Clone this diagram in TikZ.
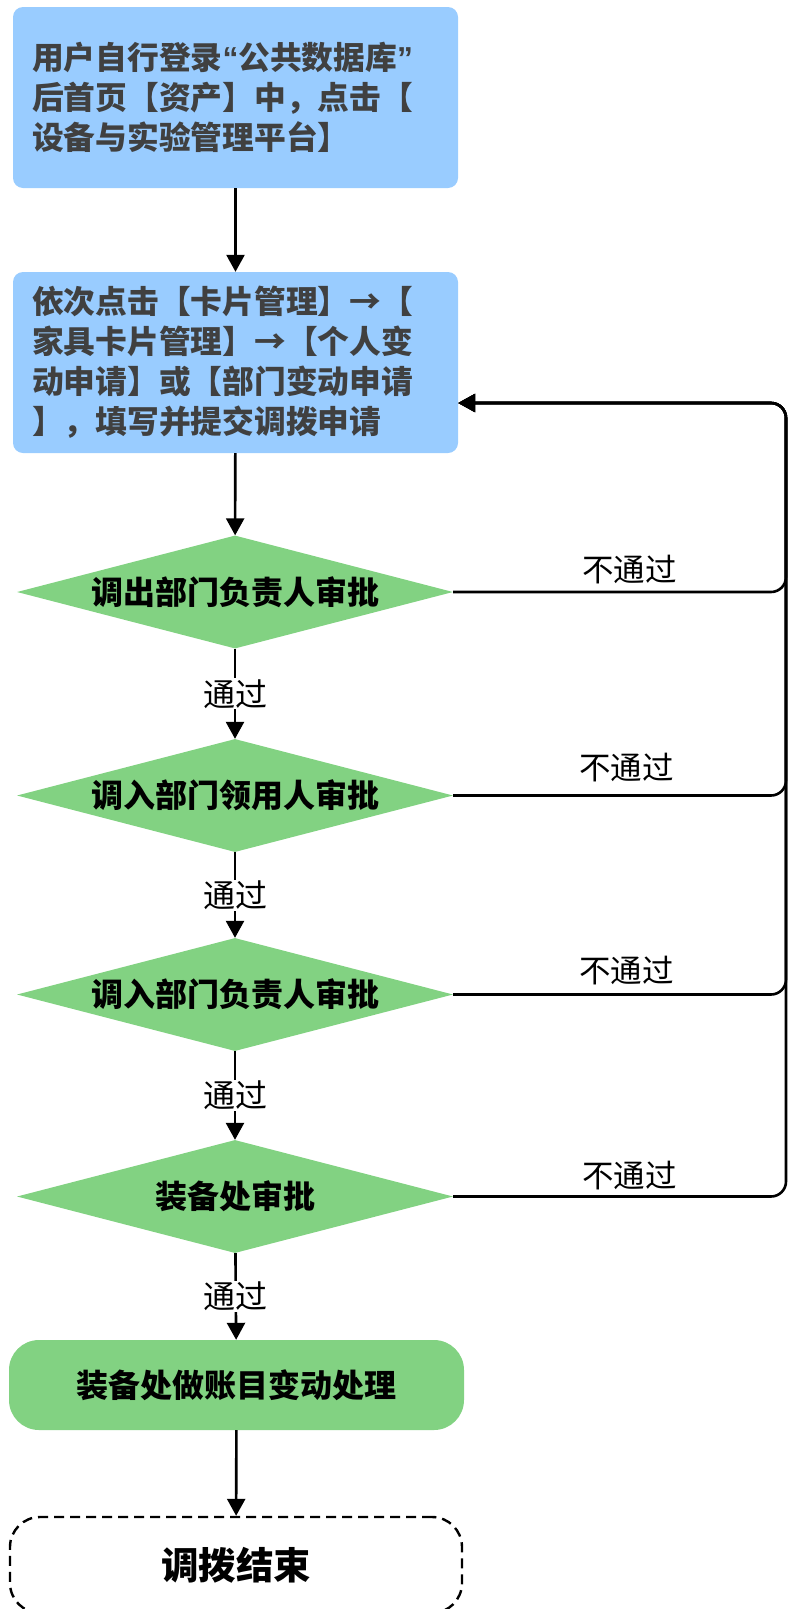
\documentclass[tikz,border=0pt]{standalone}
\usepackage{fontspec}
\setmainfont{Noto Sans CJK SC}
\newfontfamily\latinq{Liberation Sans}
\usetikzlibrary{arrows.meta,shapes.geometric}
\definecolor{boxblue}{HTML}{99CCFF}
\definecolor{boxgreen}{HTML}{82D282}
\definecolor{txtgray}{HTML}{404040}
\newcommand{\narrowq}[1]{{\latinq\bfseries\makebox[0.5em][c]{#1}}}
\begin{document}
\begin{tikzpicture}[x=1pt,y=-1pt,
  bluebox/.style={fill=boxblue, rounded corners=10pt, minimum width=445pt,
    text width=407pt, align=left, inner xsep=19pt, inner ysep=0pt,
    font=\fontsize{31.75}{40}\selectfont\bfseries, text=txtgray},
  decision/.style={diamond, fill=boxgreen, aspect=3.84, inner sep=0pt,
    minimum width=436pt, minimum height=113pt, text height=24pt, text depth=0pt,
    font=\fontsize{32}{38}\selectfont\bfseries, text=black},
  procbox/.style={fill=boxgreen, rounded corners=30pt, minimum width=455pt,
    minimum height=90pt, font=\fontsize{32}{38}\selectfont\bfseries, text=black},
  endbox/.style={draw=black, line width=2.4pt, dash pattern=on 10pt off 6pt,
    rounded corners=30pt, minimum width=452pt, minimum height=96pt,
    font=\fontsize{37.5}{44}\selectfont\bfseries, text=black},
  arr/.style={draw=black, line width=2.6pt, -{Triangle[length=17pt,width=18pt]}},
  fb/.style={arr, rounded corners=15pt},
  pass/.style={fill=white, inner sep=1pt, font=\fontsize{32}{38}\selectfont, text=black},
  fail/.style={inner sep=0pt, font=\fontsize{31.5}{38}\selectfont, text=black}
]
\clip (0,0) rectangle (792,1609);
\useasboundingbox (0,0) rectangle (792,1609);

\node[bluebox, minimum height=181pt] (b1) at (235.5,97.5)
  {用户自行登录\narrowq{“}公共数据库\narrowq{”}\\后首页【资产】中，点击【\\设备与实验管理平台】};
\node[bluebox, minimum height=181pt] (b2) at (235.5,362.5)
  {依次点击【卡片管理】→【\\家具卡片管理】→【个人变\\动申请】或【部门变动申请\\】，填写并提交调拨申请};

\node[decision] (d1) at (235,592) {调出部门负责人审批};
\node[decision] (d2) at (235,795.5) {调入部门领用人审批};
\node[decision] (d3) at (235,994.5) {调入部门负责人审批};
\node[decision] (d4) at (235,1196.5) {装备处审批};

\node[procbox] (g) at (236.5,1385) {装备处做账目变动处理};
\node[endbox] (e) at (236,1565) {调拨结束};

\coordinate (rail) at (786,403);

\draw[arr] (b1) -- (b2);
\draw[arr] (b2) -- (d1);
\draw[arr] (d1) -- node[pass] {通过} (d2);
\draw[arr] (d2) -- node[pass] {通过} (d3);
\draw[arr] (d3) -- node[pass] {通过} (d4);
\draw[arr] (d4) -- node[pass] {通过} (g);
\draw[arr] (g) -- (e);

\draw[fb] (d1.east) -- node[fail, pos=0.53, yshift=22pt] {不通过} (d1.east -| rail) |- ([yshift=-40.5pt]b2.east);
\draw[fb] (d2.east) -- node[fail, pos=0.52, yshift=28pt] {不通过} (d2.east -| rail) |- ([yshift=-40.5pt]b2.east);
\draw[fb] (d3.east) -- node[fail, pos=0.52, yshift=24pt] {不通过} (d3.east -| rail) |- ([yshift=-40.5pt]b2.east);
\draw[fb] (d4.east) -- node[fail, pos=0.53, yshift=21pt] {不通过} (d4.east -| rail) |- ([yshift=-40.5pt]b2.east);
\end{tikzpicture}
\end{document}
